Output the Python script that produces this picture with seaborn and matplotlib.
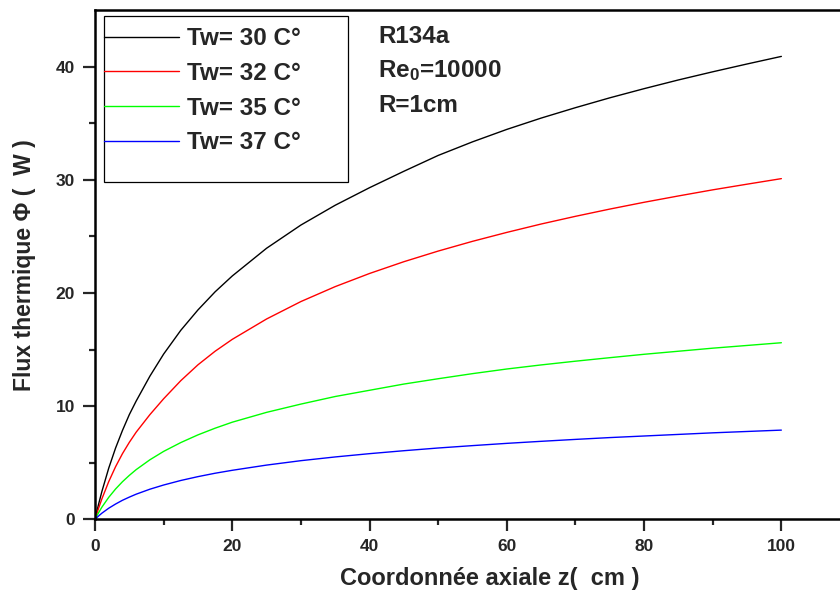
import numpy as np
import pandas as pd
import matplotlib
matplotlib.use("Agg")
import matplotlib.pyplot as plt
import seaborn as sns
from matplotlib.patches import Rectangle

# Values
z = [0, 0.5, 1, 2, 3, 4, 5, 6, 8, 10, 12.5, 15, 17.5, 20, 25, 30, 35, 40, 45,
     50, 55, 60, 65, 70, 75, 80, 85, 90, 95, 100]
flux_30 = [0, 1.28, 2.45, 4.52, 6.3, 7.85, 9.25, 10.45, 12.65, 14.6, 16.7, 18.5,
           20.1, 21.5, 23.95, 26.0, 27.75, 29.3, 30.75, 32.15, 33.35, 34.45,
           35.45, 36.37, 37.24, 38.05, 38.82, 39.54, 40.23, 40.9]
flux_32 = [0, 0.94, 1.8, 3.33, 4.65, 5.8, 6.8, 7.7, 9.25, 10.65, 12.25, 13.65,
           14.85, 15.9, 17.7, 19.24, 20.56, 21.72, 22.76, 23.7, 24.56, 25.35,
           26.09, 26.77, 27.41, 28.01, 28.57, 29.11, 29.61, 30.1]
flux_35 = [0, 0.56, 1.07, 1.94, 2.68, 3.32, 3.88, 4.39, 5.26, 6.0, 6.78, 7.46,
           8.05, 8.58, 9.45, 10.18, 10.85, 11.4, 11.95, 12.42, 12.87, 13.28,
           13.64, 13.97, 14.28, 14.58, 14.85, 15.12, 15.36, 15.6]
flux_37 = [0, 0.28, 0.54, 0.98, 1.35, 1.68, 1.96, 2.22, 2.66, 3.03, 3.43, 3.77,
           4.07, 4.33, 4.79, 5.18, 5.51, 5.8, 6.06, 6.3, 6.51, 6.71, 6.89, 7.06,
           7.22, 7.36, 7.5, 7.64, 7.76, 7.88]
labels = ["Tw= 30 C°", "Tw= 32 C°", "Tw= 35 C°", "Tw= 37 C°"]
colors = ["black", "#ff0000", "#00ff00", "#0000ff"]

data = pd.DataFrame({
    "z": z * 4,
    "flux": flux_30 + flux_32 + flux_35 + flux_37,
    "serie": [lab for lab in labels for _ in z],
})

sns.set_style("ticks")
plt.rcParams["font.family"] = ["Liberation Sans", "DejaVu Sans"]
plt.rcParams["font.weight"] = "bold"
plt.rcParams["mathtext.fontset"] = "custom"
plt.rcParams["mathtext.rm"] = "Liberation Sans:bold"
plt.rcParams["mathtext.default"] = "rm"

fig = plt.figure(figsize=(8.4, 5.97), dpi=100)
ax = fig.add_axes([95 / 840, 1 - 519.3 / 597, 755 / 840, 509.3 / 597])

sns.lineplot(data=data, x="z", y="flux", hue="serie", palette=dict(zip(labels, colors)),
             linewidth=1.0, legend=False, ax=ax, estimator=None, sort=False)

ax.set_xlim(0, 110)
ax.set_ylim(0, 45)
ax.set_xticks([0, 20, 40, 60, 80, 100])
ax.set_xticks([10, 30, 50, 70, 90, 110], minor=True)
ax.set_yticks([0, 10, 20, 30, 40])
ax.set_yticks([5, 15, 25, 35], minor=True)
ax.tick_params(which="major", length=8.5, width=1.6, pad=6, labelsize=12.5)
ax.tick_params(which="minor", length=4.5, width=1.6)
for lab in ax.get_xticklabels() + ax.get_yticklabels():
    lab.set_fontweight("bold")
for sp in ax.spines.values():
    sp.set_linewidth(1.8)
    sp.set_color("black")

ax.set_xlabel("Coordonnée axiale z(  cm )", fontsize=17, fontweight="bold", va="center")
ax.xaxis.set_label_coords(0.523, -0.117)
ax.set_ylabel("Flux thermique Φ (  W )", fontsize=16.5, fontweight="bold", va="center")
ax.yaxis.set_label_coords(-0.094, 0.5)

# legend box
ax.add_patch(Rectangle((0.0119, 0.6623), 0.3232, 0.3259, transform=ax.transAxes,
                       fill=False, edgecolor="black", linewidth=0.9, zorder=3))
handles = ax.get_lines()[:4]
ax.legend(handles, labels, loc="upper left", bbox_to_anchor=(0.0119, 0.966),
          frameon=False, handlelength=3.1, handletextpad=0.3,
          labelspacing=0.48, borderpad=0, borderaxespad=0,
          prop={"weight": "bold", "size": 17.5})

for txt, yy in [("R134a", 0.9352), ("Re$_{0}$=10000", 0.8679), ("R=1cm", 0.8003)]:
    ax.text(0.3748, yy, txt, transform=ax.transAxes, fontsize=17.5,
            fontweight="bold", va="baseline", ha="left")

plt.savefig("out.png", dpi=100)
